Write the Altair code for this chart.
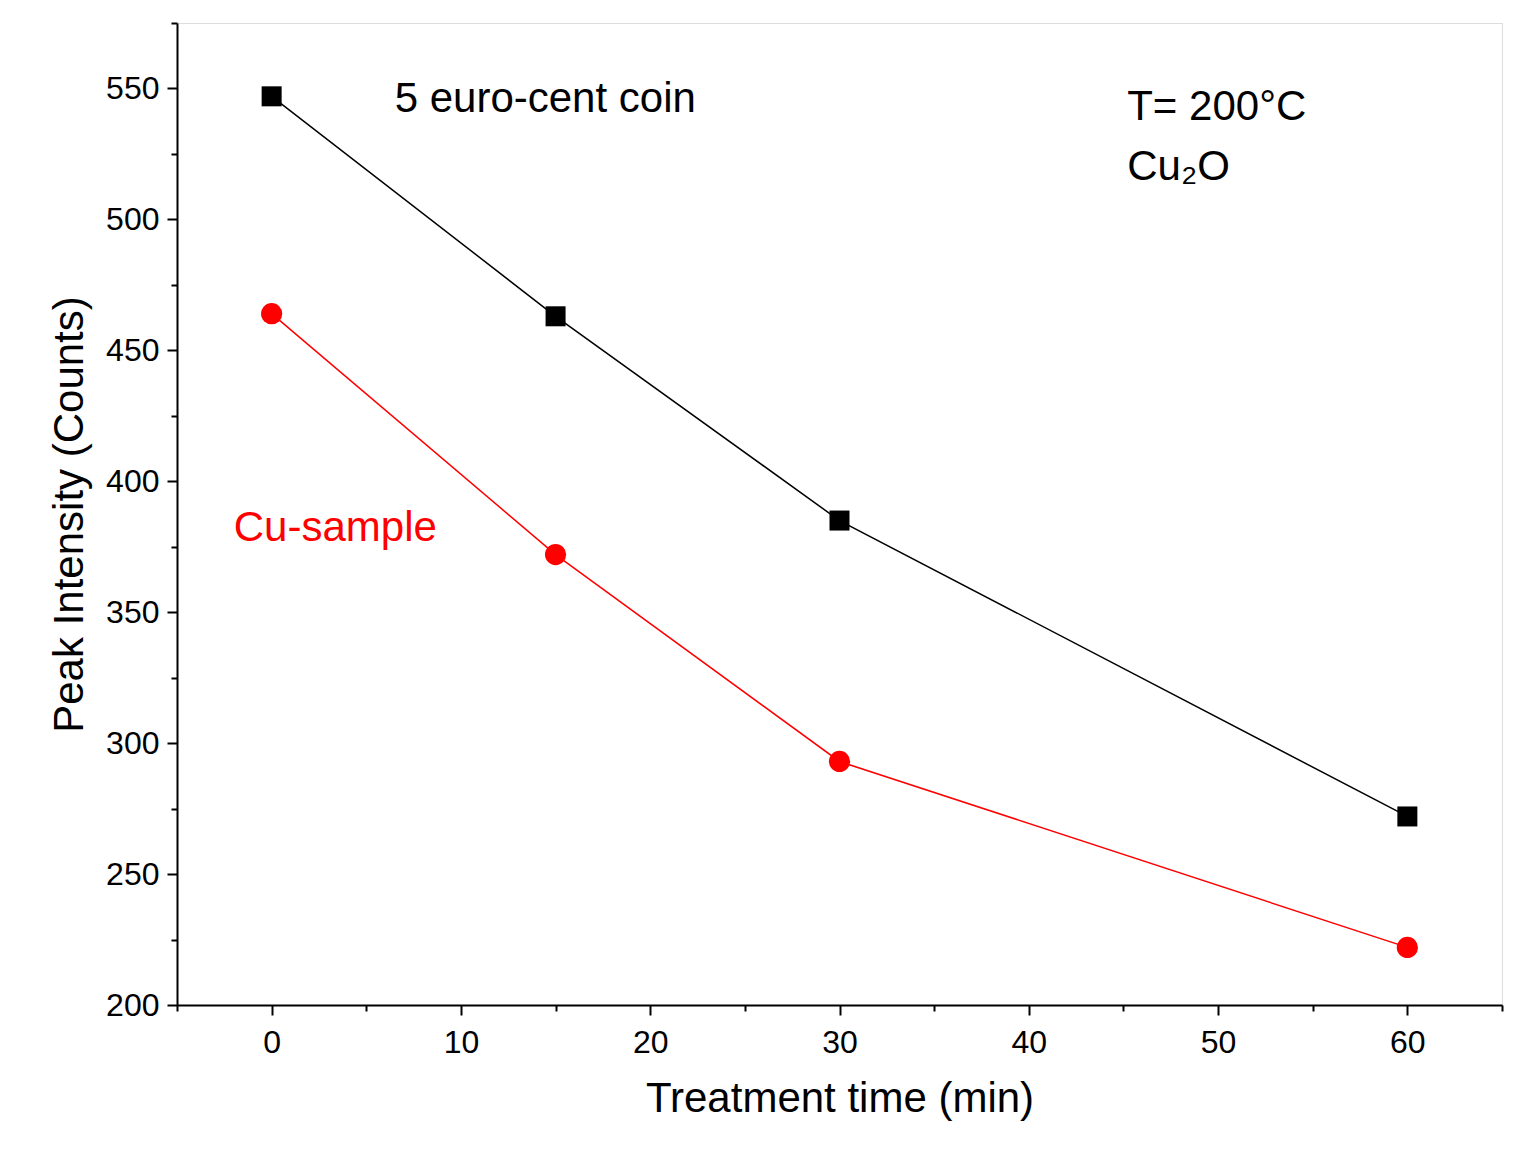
import altair as alt
import pandas as pd

time = [0, 15, 30, 60]
coin = [547, 463, 385, 272]
cu_sample = [464, 372, 293, 222]

df = pd.DataFrame({
    "t": time * 2,
    "v": coin + cu_sample,
    "s": ["coin"] * 4 + ["cu"] * 4,
})

FONT = "Liberation Sans"
xs = alt.Scale(domain=[-5, 65], nice=False, zero=False)
ys = alt.Scale(domain=[200, 575], nice=False, zero=False)

xmaj = alt.X("t:Q", scale=xs, title="Treatment time (min)",
             axis=alt.Axis(values=[0, 10, 20, 30, 40, 50, 60], grid=False, tickSize=10,
                           tickWidth=2, domainWidth=2, domainColor="black", tickColor="black",
                           labelFontSize=32, titleFontSize=42, labelColor="black", titleColor="black",
                           labelFont=FONT, titleFont=FONT, titleFontWeight="normal",
                           labelPadding=12, titlePadding=20, orient="bottom"))
ymaj = alt.Y("v:Q", scale=ys, title="Peak Intensity (Counts)",
             axis=alt.Axis(values=[200, 250, 300, 350, 400, 450, 500, 550], grid=False, tickSize=10,
                           tickWidth=2, domainWidth=2, domainColor="black", tickColor="black",
                           labelFontSize=32, titleFontSize=42, labelColor="black", titleColor="black",
                           labelFont=FONT, titleFont=FONT, titleFontWeight="normal",
                           labelPadding=8, titlePadding=14, orient="left"))

xn = alt.X("t:Q", scale=xs, axis=None)
yn = alt.Y("v:Q", scale=ys, axis=None)

colors = alt.Scale(domain=["coin", "cu"], range=["black", "#ff0000"])

lines = alt.Chart(df).mark_line(strokeWidth=1.5).encode(
    x=xmaj, y=ymaj, color=alt.Color("s:N", scale=colors, legend=None))
sq = alt.Chart(df[df.s == "coin"]).mark_point(shape="square", filled=True, size=400, opacity=1, color="black").encode(
    x=xn, y=yn)
ci = alt.Chart(df[df.s == "cu"]).mark_circle(size=450, opacity=1, color="#ff0000").encode(
    x=xn, y=yn)

minor = alt.Chart(pd.DataFrame({"t": [0], "v": [200]})).mark_point(opacity=0).encode(
    x=alt.X("t:Q", scale=xs, title=None,
            axis=alt.Axis(values=[-5, 5, 15, 25, 35, 45, 55, 65], labels=False, grid=False, tickSize=6,
                          tickWidth=2, domain=False, tickColor="black", orient="bottom")),
    y=alt.Y("v:Q", scale=ys, title=None,
            axis=alt.Axis(values=[225, 275, 325, 375, 425, 475, 525, 575], labels=False, grid=False, tickSize=6,
                          tickWidth=2, domain=False, tickColor="black", orient="left")))

labels = pd.DataFrame({
    "t": [6.5, 45.2, 45.2, -2.0],
    "v": [546, 543, 520, 382],
    "txt": ["5 euro-cent coin", "T= 200°C", "Cu₂O", "Cu-sample"],
    "c": ["black", "black", "black", "#ff0000"],
})
text = alt.Chart(labels).mark_text(align="left", baseline="middle", fontSize=42, font=FONT).encode(
    x=xn, y=yn, text="txt:N", color=alt.Color("c:N", scale=None))

chart = alt.layer(minor, lines, sq, ci, text).resolve_axis(x="independent", y="independent").properties(
    width=1325, height=982, padding={"left": 40, "top": 14, "right": 5, "bottom": 5}
).configure_view(stroke="black", strokeWidth=2).configure(background="white")

chart.save("out.html", embed_options={"renderer": "svg", "actions": False})
